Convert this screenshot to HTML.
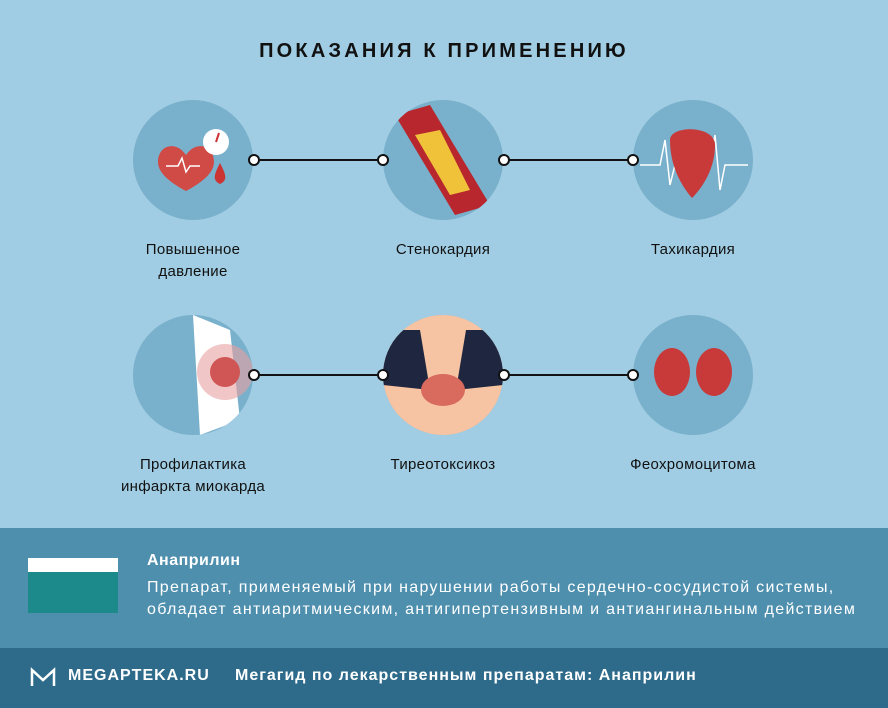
<!DOCTYPE html>
<html><head><meta charset="utf-8"><style>
body{margin:0;width:888px;height:708px;background:#a0cde3;font-family:"Liberation Sans",sans-serif;position:relative;overflow:hidden}
.t{position:absolute;text-align:center;color:#111;font-size:15px;line-height:22px;letter-spacing:0.3px}
</style></head><body>
<div class="t" style="left:0;width:888px;top:40px;font-size:20px;font-weight:bold;letter-spacing:3.2px">ПОКАЗАНИЯ К ПРИМЕНЕНИЮ</div>
<svg width="888" height="528" style="position:absolute;left:0;top:0">
<defs>
<clipPath id="c2"><circle cx="443" cy="160" r="60"/></clipPath>
<clipPath id="c4"><circle cx="193" cy="375" r="60"/></clipPath>
<clipPath id="c5"><circle cx="443" cy="375" r="60"/></clipPath>
</defs>
<g fill="#79b0cb">
<circle cx="193" cy="160" r="60"/><circle cx="443" cy="160" r="60"/><circle cx="693" cy="160" r="60"/>
<circle cx="193" cy="375" r="60"/><circle cx="443" cy="375" r="60"/><circle cx="693" cy="375" r="60"/>
</g>
<!-- icon 1 -->
<path d="M186 155 C176 140 158 145 158 162 C158 175 175 185 186 191 C197 185 214 175 214 162 C214 145 196 140 186 155Z" fill="#d04a46"/>
<circle cx="216" cy="142" r="13" fill="#fff"/><line x1="216" y1="142" x2="219" y2="133" stroke="#c33" stroke-width="2"/>
<path d="M220 163 C214 175 212 180 220 184 C228 180 226 175 220 163Z" fill="#c33"/>
<polyline points="166,166 178,166 182,158 186,172 190,166 200,166" fill="none" stroke="#fff" stroke-width="1.5"/>
<!-- icon 2 -->
<g clip-path="url(#c2)">
<path d="M395 115 L430 105 L490 205 L455 215Z" fill="#b8262e"/>
<path d="M415 135 L440 130 L470 190 L450 195Z" fill="#f0c23a"/>
</g>
<!-- icon 3 -->
<polyline points="640,165 660,165 665,140 670,185 675,165 710,165 715,135 720,190 725,165 748,165" fill="none" stroke="#fff" stroke-width="1.5"/>
<path d="M670 140 C670 125 715 125 715 145 C715 175 695 195 692 198 C685 190 670 170 670 140Z" fill="#c8393a"/>
<!-- icon 4 -->
<g clip-path="url(#c4)">
<path d="M193 315 L230 330 L240 420 L200 435 Z" fill="#fff"/>
<circle cx="225" cy="372" r="28" fill="#e8a0a0" opacity=".6"/><circle cx="225" cy="372" r="15" fill="#d05555"/>
</g>
<!-- icon 5 -->
<g clip-path="url(#c5)">
<rect x="383" y="315" width="120" height="120" fill="#f7c4a3"/>
<path d="M383 330 L420 330 L430 390 L383 385Z" fill="#1f2740"/><path d="M503 330 L466 330 L456 390 L503 385Z" fill="#1f2740"/>
<ellipse cx="443" cy="390" rx="22" ry="16" fill="#d86a5e"/>
</g>
<!-- icon 6 -->
<ellipse cx="672" cy="372" rx="18" ry="24" fill="#c8393a"/><ellipse cx="714" cy="372" rx="18" ry="24" fill="#c8393a"/>
<g stroke="#111" stroke-width="2" fill="#fff">
<line x1="254" y1="160" x2="383" y2="160"/><line x1="504" y1="160" x2="633" y2="160"/>
<line x1="254" y1="375" x2="383" y2="375"/><line x1="504" y1="375" x2="633" y2="375"/>
<circle cx="254" cy="160" r="5"/><circle cx="383" cy="160" r="5"/><circle cx="504" cy="160" r="5"/><circle cx="633" cy="160" r="5"/>
<circle cx="254" cy="375" r="5"/><circle cx="383" cy="375" r="5"/><circle cx="504" cy="375" r="5"/><circle cx="633" cy="375" r="5"/>
</g>
</svg>
<div class="t" style="left:118px;width:150px;top:239px">Повышенное<br>давление</div>
<div class="t" style="left:368px;width:150px;top:239px">Стенокардия</div>
<div class="t" style="left:618px;width:150px;top:239px">Тахикардия</div>
<div class="t" style="left:93px;width:200px;top:454px">Профилактика<br>инфаркта миокарда</div>
<div class="t" style="left:358px;width:170px;top:454px">Тиреотоксикоз</div>
<div class="t" style="left:608px;width:170px;top:454px">Феохромоцитома</div>
<div style="position:absolute;left:0;top:528px;width:888px;height:120px;background:#4e8fae"></div>
<div style="position:absolute;left:28px;top:558px;width:90px;height:55px;background:#1c8a8a;border-top:14px solid #fff;box-sizing:border-box"></div>
<div style="position:absolute;left:147px;top:552px;color:#fff;font-weight:bold;font-size:16px;letter-spacing:0.5px">Анаприлин</div>
<div style="position:absolute;left:147px;top:577px;color:#fff;font-size:16px;line-height:22px;letter-spacing:1.3px;white-space:nowrap">Препарат, применяемый при нарушении работы сердечно-сосудистой системы,<br>обладает антиаритмическим, антигипертензивным и антиангинальным действием</div>
<div style="position:absolute;left:0;top:648px;width:888px;height:60px;background:#2e6a8a"></div>
<svg style="position:absolute;left:29px;top:666px" width="28" height="24"><path d="M3 20 L3 4 L14 14 L25 4 L25 20" fill="none" stroke="#fff" stroke-width="2.5"/></svg>
<div style="position:absolute;left:68px;top:667px;color:#fff;font-weight:bold;font-size:16px;letter-spacing:1px">MEGAPTEKA.RU</div>
<div style="position:absolute;left:235px;top:667px;color:#fff;font-weight:bold;font-size:16px;letter-spacing:1px;white-space:nowrap">Мегагид по лекарственным препаратам: Анаприлин</div>
</body></html>
